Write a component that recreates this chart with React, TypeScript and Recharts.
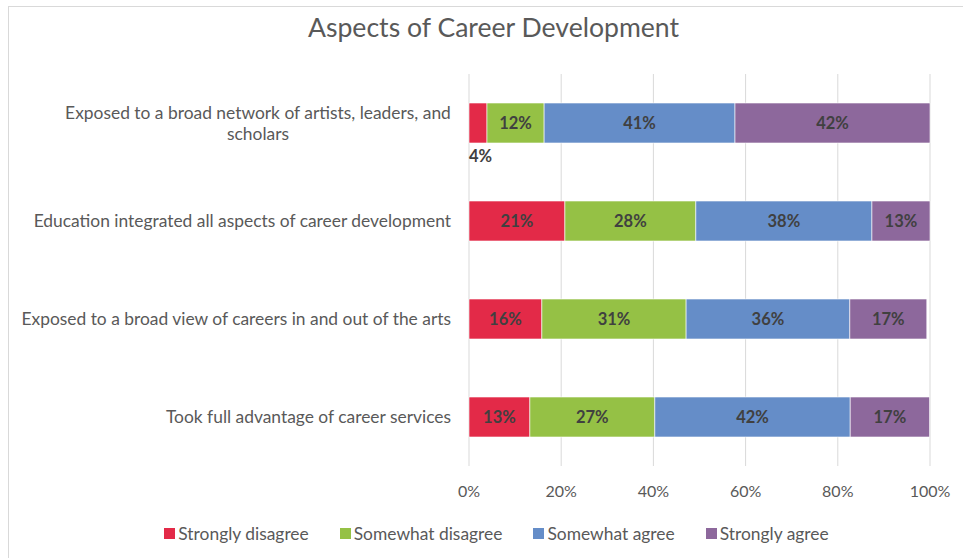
import React from "react";
import {
  BarChart,
  Bar,
  XAxis,
  YAxis,
  CartesianGrid,
  Legend,
  LabelList,
} from "recharts";

const categories = [
  "Exposed to a broad network of artists, leaders, and scholars",
  "Education integrated all aspects of career development",
  "Exposed to a broad view of careers in and out of the arts",
  "Took full advantage of career services",
];

const stronglyDisagree = [3.9, 20.8, 15.8, 13.2];
const somewhatDisagree = [12.4, 28.4, 31.3, 27.1];
const somewhatAgree = [41.4, 38.2, 35.5, 42.4];
const stronglyAgree = [42.3, 12.6, 16.7, 17.2];

const xTicks = [0, 20, 40, 60, 80, 100];

const SERIES = [
  { key: "sd", name: "Strongly disagree", color: "#E32A48", values: stronglyDisagree },
  { key: "swd", name: "Somewhat disagree", color: "#95C145", values: somewhatDisagree },
  { key: "swa", name: "Somewhat agree", color: "#658DC8", values: somewhatAgree },
  { key: "sa", name: "Strongly agree", color: "#8D689C", values: stronglyAgree },
];

const data = categories.map((name, i) => {
  const row: any = { name };
  SERIES.forEach((s) => (row[s.key] = s.values[i]));
  return row;
});

const FONT = "Lato, 'Open Sans', sans-serif";
const TEXT = "#595959";
const CAT_SIZE = 17.4;

let ctx: CanvasRenderingContext2D | null = null;
const measure = (t: string) => {
  if (!ctx) ctx = document.createElement("canvas").getContext("2d");
  if (!ctx) return t.length * 8;
  ctx.font = `${CAT_SIZE}px Lato`;
  return ctx.measureText(t).width;
};

const wrap = (text: string, max: number) => {
  const words = text.split(" ");
  const lines: string[] = [];
  let cur = "";
  words.forEach((w) => {
    const next = cur ? cur + " " + w : w;
    if (measure(next) > max && cur) {
      lines.push(cur);
      cur = w;
    } else cur = next;
  });
  if (cur) lines.push(cur);
  return lines;
};

const CategoryTick = (props: any) => {
  const { x, y, payload } = props;
  const lines = wrap(payload.value, 432);
  const widest = Math.max(...lines.map(measure));
  const multi = lines.length > 1;
  return (
    <g>
      {lines.map((l, i) => (
        <text
          key={i}
          x={multi ? x - widest / 2 : x}
          y={y + (i - (lines.length - 1) / 2) * 21}
          dy="0.35em"
          textAnchor={multi ? "middle" : "end"}
          fontSize={CAT_SIZE}
          fontFamily={FONT}
          fill={TEXT}
        >
          {l}
        </text>
      ))}
    </g>
  );
};

const pctLabel = (props: any) => {
  const { x, y, width, height, value } = props;
  const v = Math.round(value);
  const common = {
    fontSize: 16.5,
    fontWeight: "bold" as const,
    fontFamily: FONT,
    fill: "#404040",
  };
  if (width < 25) {
    return (
      <text x={x} y={y + height + 19} textAnchor="start" {...common}>
        {v}%
      </text>
    );
  }
  return (
    <text
      x={x + width / 2}
      y={y + height / 2}
      dy="0.35em"
      textAnchor="middle"
      {...common}
    >
      {v}%
    </text>
  );
};

const LegendContent = () => (
  <div
    style={{
      display: "flex",
      justifyContent: "center",
      gap: 31,
      fontFamily: FONT,
      fontSize: CAT_SIZE,
      color: TEXT,
      paddingLeft: 63,
      paddingTop: 7,
    }}
  >
    {SERIES.map((s) => (
      <div key={s.key} style={{ display: "flex", alignItems: "center" }}>
        <span
          style={{
            display: "inline-block",
            width: 11,
            height: 11,
            background: s.color,
            marginRight: 3,
          }}
        />
        {s.name}
      </div>
    ))}
  </div>
);

export default function App() {
  return (
    <div
      style={{
        position: "absolute",
        left: 0,
        top: 0,
        width: 963,
        height: 558,
        background: "#fff",
        overflow: "hidden",
      }}
    >
      <div
        style={{
          position: "absolute",
          left: 8,
          top: 6,
          width: 1000,
          height: 600,
          border: "1.5px solid #d9d9d9",
          boxSizing: "border-box",
        }}
      />
      <div
        style={{
          position: "absolute",
          left: 0,
          top: 11,
          width: 987,
          textAlign: "center",
          fontFamily: FONT,
          fontSize: 26.6,
          color: TEXT,
        }}
      >
        Aspects of Career Development
      </div>
      <BarChart
        width={963}
        height={558}
        data={data}
        layout="vertical"
        margin={{ top: 74, right: 33, bottom: 12, left: 0 }}
        barSize={40}
        style={{ position: "absolute", left: 0, top: 0 }}
      >
        <CartesianGrid horizontal={false} stroke="#d9d9d9" />
        <XAxis
          type="number"
          domain={[0, 100]}
          ticks={xTicks}
          tickFormatter={(v) => `${v}%`}
          axisLine={false}
          tickLine={false}
          tickMargin={14}
          height={50}
          tick={{ fontSize: 16, fontFamily: FONT, fill: TEXT }}
        />
        <YAxis
          type="category"
          dataKey="name"
          width={469}
          axisLine={false}
          tickLine={false}
          tickMargin={12}
          tick={<CategoryTick />}
        />
        <Legend verticalAlign="bottom" height={30} content={<LegendContent />} />
        {SERIES.map((s) => (
          <Bar
            key={s.key}
            dataKey={s.key}
            name={s.name}
            stackId="a"
            fill={s.color}
            stroke="#fff"
            strokeWidth={0.6}
            isAnimationActive={false}
          >
            <LabelList dataKey={s.key} content={pctLabel} />
          </Bar>
        ))}
      </BarChart>
    </div>
  );
}
